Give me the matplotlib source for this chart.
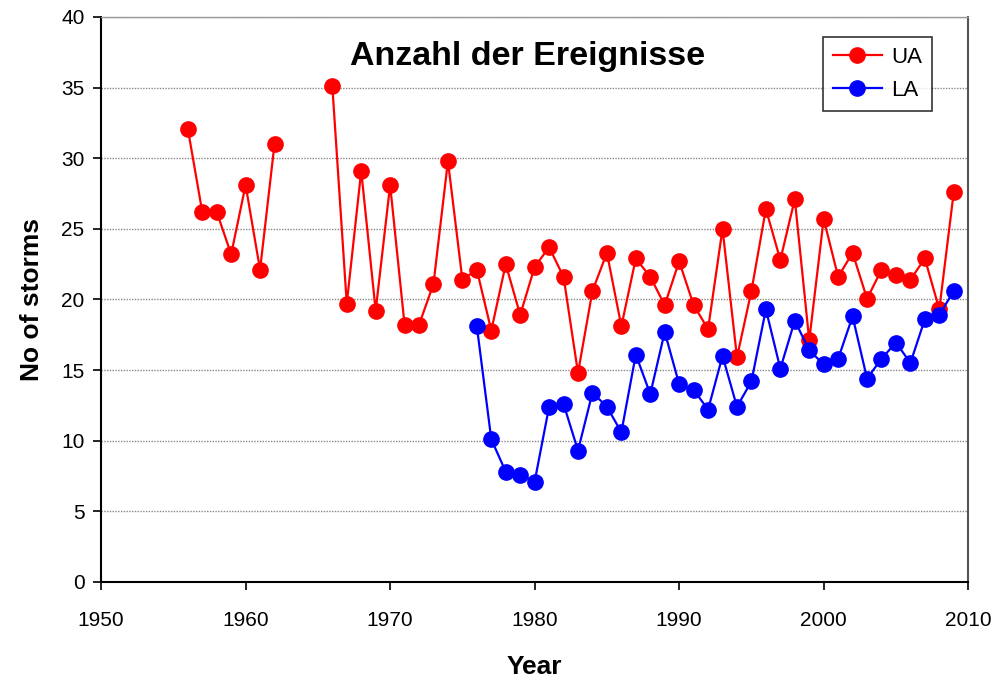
import numpy as np
import matplotlib
matplotlib.use("Agg")
import matplotlib.pyplot as plt

plt.rcParams['font.family'] = ['Liberation Sans', 'DejaVu Sans']

# UA series (gap 1963-1965)
ua_years = list(range(1956, 2010))
ua_values = [32.1, 26.2, 26.2, 23.2, 28.1, 22.1, 31.0,
             np.nan, np.nan, np.nan,
             35.1, 19.7, 29.1, 19.2, 28.1, 18.2, 18.2, 21.1, 29.8, 21.4,
             22.1, 17.8, 22.5, 18.9, 22.3, 23.7, 21.6, 14.8, 20.6, 23.3,
             18.1, 22.9, 21.6, 19.6, 22.7, 19.6, 17.9, 25.0, 15.9, 20.6,
             26.4, 22.8, 27.1, 17.1, 25.7, 21.6, 23.3, 20.05, 22.1, 21.7,
             21.4, 22.9, 19.3, 27.6]

# LA series
la_years = list(range(1976, 2010))
la_values = [18.1, 10.1, 7.8, 7.6, 7.1, 12.4, 12.6, 9.3, 13.4, 12.4,
             10.6, 16.1, 13.3, 17.7, 14.0, 13.6, 12.2, 16.0, 12.4, 14.2,
             19.3, 15.1, 18.5, 16.4, 15.4, 15.8, 18.8, 14.4, 15.8, 16.95,
             15.5, 18.6, 18.9, 20.6]

x_ticks = [1950, 1960, 1970, 1980, 1990, 2000, 2010]
y_ticks = [0, 5, 10, 15, 20, 25, 30, 35, 40]

fig = plt.figure(figsize=(9.91, 6.79), dpi=100)
ax = fig.add_axes([0.102, 0.143, 0.875, 0.832])

ax.plot(ua_years, ua_values, color='#ff0000', marker='o', markersize=11,
        linewidth=1.6, label='UA', zorder=3)
ax.plot(la_years, la_values, color='#0000ff', marker='o', markersize=11,
        linewidth=1.6, label='LA', zorder=3)

ax.set_xlim(1950, 2010)
ax.set_ylim(0, 40)
ax.set_xticks(x_ticks)
ax.set_yticks(y_ticks)
ax.tick_params(axis='both', direction='out', length=6, width=1.2,
               labelsize=15)
ax.tick_params(axis='x', pad=15)
ax.tick_params(axis='y', pad=6)

ax.yaxis.grid(True, color='#888888', linestyle=(0, (1, 1)), linewidth=1)
ax.set_axisbelow(True)

ax.spines['left'].set_color('black')
ax.spines['left'].set_linewidth(1.5)
ax.spines['bottom'].set_color('black')
ax.spines['bottom'].set_linewidth(1.5)
ax.spines['top'].set_color('#999999')
ax.spines['top'].set_linewidth(1)
ax.spines['right'].set_color('#555555')
ax.spines['right'].set_linewidth(1.5)

ax.set_xlabel('Year', fontsize=19, fontweight='bold', labelpad=18)
ax.set_ylabel('No of storms', fontsize=19, fontweight='bold', labelpad=12)

ax.text(0.492, 0.93, 'Anzahl der Ereignisse', transform=ax.transAxes,
        ha='center', va='center', fontsize=24.5, fontweight='bold')

leg = ax.legend(loc='upper right', bbox_to_anchor=(0.958, 0.965),
                borderaxespad=0, fontsize=16, frameon=True, fancybox=False,
                edgecolor='black', handlelength=2.2, borderpad=0.45,
                labelspacing=0.55, handletextpad=0.4)
leg.get_frame().set_linewidth(1.2)

fig.savefig('out.png', dpi=100, facecolor='white')
